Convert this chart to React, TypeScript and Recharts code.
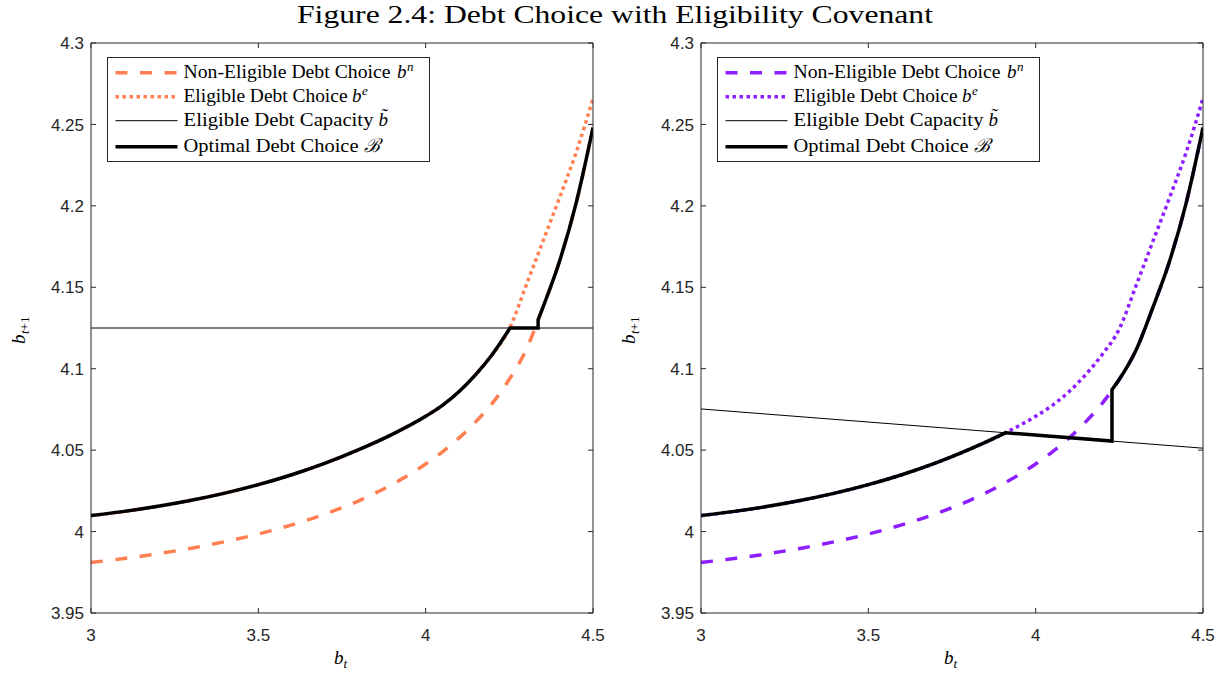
import React from "react";
import { LineChart, Line, XAxis, YAxis } from "recharts";

// b_t grid shared by the b^n and b^e curves
const BT = [3.0, 3.1, 3.2, 3.3, 3.4, 3.5, 3.6, 3.7, 3.8, 3.9, 4.0, 4.05, 4.1, 4.15, 4.2, 4.25, 4.3, 4.35, 4.4, 4.45, 4.5];

// non-eligible debt choice b^n
const NON_ELIGIBLE = [3.981, 3.9835, 3.9864, 3.9898, 3.9938, 3.9985, 4.0041, 4.0108, 4.0189, 4.029, 4.0415, 4.049, 4.0575, 4.0675, 4.079, 4.0935, 4.1115, 4.1375, 4.166, 4.202, 4.248];

// eligible debt choice b^e
const ELIGIBLE = [4.0098, 4.0124, 4.0155, 4.0192, 4.0236, 4.0288, 4.0349, 4.042, 4.0503, 4.0597, 4.0708, 4.0775, 4.086, 4.0965, 4.109, 4.1245, 4.151, 4.178, 4.205, 4.233, 4.266];

// eligible debt capacity (straight line, end points)
const CAP_BT = [3, 4.5];
const CAP_LEFT = [4.125, 4.125];
const CAP_RIGHT = [4.0753, 4.0512];

// optimal debt choice, left panel
const OPT_LEFT_BT = [3.0, 3.1, 3.2, 3.3, 3.4, 3.5, 3.6, 3.7, 3.8, 3.9, 4.0, 4.05, 4.1, 4.15, 4.2, 4.252, 4.336, 4.336, 4.35, 4.4, 4.45, 4.5];
const OPT_LEFT = [4.0098, 4.0124, 4.0155, 4.0192, 4.0236, 4.0288, 4.0349, 4.042, 4.0503, 4.0597, 4.0708, 4.0775, 4.086, 4.0965, 4.109, 4.125, 4.125, 4.13, 4.1375, 4.166, 4.202, 4.248];
// indices where B hits the capacity and where it jumps back to b^n
const OPT_LEFT_KINKS = [15, 17];

// optimal debt choice, right panel
const OPT_RIGHT_BT = [3.0, 3.1, 3.2, 3.3, 3.4, 3.5, 3.6, 3.7, 3.8, 3.9, 3.91, 4.228, 4.228, 4.25, 4.3, 4.35, 4.4, 4.45, 4.5];
const OPT_RIGHT = [4.0098, 4.0124, 4.0155, 4.0192, 4.0236, 4.0288, 4.0349, 4.042, 4.0503, 4.0597, 4.0607, 4.0556, 4.0871, 4.0935, 4.1115, 4.1375, 4.166, 4.202, 4.248];
const OPT_RIGHT_KINKS = [10, 12];

const X_TICKS = [3, 3.5, 4, 4.5];
const Y_TICKS = [3.95, 4, 4.05, 4.1, 4.15, 4.2, 4.25, 4.3];

const TITLE = "Figure 2.4: Debt Choice with Eligibility Covenant";

const ORANGE = "#FF7F50";
const PURPLE = "#8C1EFF";
const AXIS = "#262626";
const SANS = "'Liberation Sans', Arial, Helvetica, sans-serif";
const SERIF = "'Liberation Serif', 'Times New Roman', serif";

// plot box (same size in both panels)
const PLOT_TOP = 43;
const PLOT_H = 570;
const PLOT_W = 502;
const CHART_H = 680;
const BOTTOM_AXIS_H = 40;
const LEFT_AXIS_W = 60;
const MIRROR_AXIS = 10;

const fmt = (v: number) => String(Number(v.toFixed(2)));
const pts = (xs: number[], ys: number[]) => xs.map((x, i) => ({ bt: x, v: ys[i] }));

// MATLAB-style inward ticks
function BottomTick({ x, y, payload }: any) {
  return (
    <g>
      <line x1={x} x2={x} y1={y} y2={y - 5} stroke={AXIS} />
      <text x={x} y={y + 28} textAnchor="middle" fontSize={17} fill={AXIS} fontFamily={SANS}>
        {fmt(payload.value)}
      </text>
    </g>
  );
}

function TopTick({ x, y }: any) {
  return <line x1={x} x2={x} y1={y} y2={y + 5} stroke={AXIS} />;
}

function LeftTick({ x, y, payload }: any) {
  return (
    <g>
      <line x1={x} x2={x + 5} y1={y} y2={y} stroke={AXIS} />
      <text x={x - 7} y={y} dy="0.36em" textAnchor="end" fontSize={17} fill={AXIS} fontFamily={SANS}>
        {fmt(payload.value)}
      </text>
    </g>
  );
}

function RightTick({ x, y }: any) {
  return <line x1={x} x2={x - 5} y1={y} y2={y} stroke={AXIS} />;
}

type PanelProps = {
  left: number;
  width: number;
  plotLeft: number;
  color: string;
  capacity: number[];
  optBt: number[];
  opt: number[];
  kinks: number[];
};

function Panel({ left, width, plotLeft, color, capacity, optBt, opt, kinks }: PanelProps) {
  const margin = {
    top: PLOT_TOP - MIRROR_AXIS,
    left: plotLeft - LEFT_AXIS_W,
    right: width - plotLeft - PLOT_W - MIRROR_AXIS,
    bottom: CHART_H - PLOT_TOP - PLOT_H - BOTTOM_AXIS_H,
  };
  const xCommon = {
    dataKey: "bt",
    type: "number" as const,
    domain: [3, 4.5],
    ticks: X_TICKS,
    allowDataOverflow: true,
    interval: 0 as const,
    tickSize: 0,
    tickMargin: 0,
    tickLine: false,
    axisLine: { stroke: AXIS },
  };
  const yCommon = {
    type: "number" as const,
    domain: [3.95, 4.3],
    ticks: Y_TICKS,
    allowDataOverflow: true,
    interval: 0 as const,
    tickSize: 0,
    tickMargin: 0,
    tickLine: false,
    axisLine: { stroke: AXIS },
  };
  const series = { xAxisId: "b", yAxisId: "l", dataKey: "v", dot: false, activeDot: false, isAnimationActive: false };
  const optimal = pts(optBt, opt);
  const [k1, k2] = kinks;
  return (
    <div style={{ position: "absolute", left, top: 0 }}>
      <LineChart width={width} height={CHART_H} margin={margin}>
        <XAxis xAxisId="b" orientation="bottom" height={BOTTOM_AXIS_H} {...xCommon} tick={BottomTick} />
        <XAxis xAxisId="t" orientation="top" height={MIRROR_AXIS} {...xCommon} tick={TopTick} />
        <YAxis yAxisId="l" orientation="left" width={LEFT_AXIS_W} {...yCommon} tick={LeftTick} />
        <YAxis yAxisId="r" orientation="right" width={MIRROR_AXIS} {...yCommon} tick={RightTick} />
        <Line {...series} data={pts(BT, NON_ELIGIBLE)} type="monotone" stroke={color} strokeWidth={3.5} strokeDasharray="12 12.5" />
        <Line {...series} data={pts(BT, ELIGIBLE)} type="monotone" stroke={color} strokeWidth={3.5} strokeDasharray="3.5 3.5" />
        <Line {...series} data={pts(CAP_BT, capacity)} type="linear" stroke="#000" strokeWidth={1} />
        {/* optimal choice: smooth up to the capacity, straight along it and up the jump, smooth again on b^n */}
        <Line {...series} data={optimal.slice(0, k1 + 1)} type="monotone" stroke="#000" strokeWidth={3.5} />
        <Line {...series} data={optimal.slice(k1, k2 + 1)} type="linear" stroke="#000" strokeWidth={3.5} strokeLinecap="round" />
        <Line {...series} data={optimal.slice(k2)} type="monotone" stroke="#000" strokeWidth={3.5} />
      </LineChart>
    </div>
  );
}

// boxed legend in the upper-left corner of a panel
function LegendBox({ bx, color }: { bx: number; color: string }) {
  const rows = [72.7, 96.7, 120.7, 146.7];
  const sx1 = bx + 8;
  const sx2 = bx + 70;
  const tx = bx + 76;
  const fs = 19;
  return (
    <g fontFamily={SERIF} fill="#000">
      <rect x={bx} y={57.5} width={322} height={104} fill="#fff" stroke={AXIS} strokeWidth={1} />
      <line x1={sx1} x2={sx2} y1={rows[0]} y2={rows[0]} stroke={color} strokeWidth={3.5} strokeDasharray="12 12.5" />
      <line x1={sx1} x2={sx2} y1={rows[1]} y2={rows[1]} stroke={color} strokeWidth={3.5} strokeDasharray="3.5 3.5" />
      <line x1={sx1} x2={sx2} y1={rows[2]} y2={rows[2]} stroke="#000" strokeWidth={1} />
      <line x1={sx1} x2={sx2} y1={rows[3]} y2={rows[3]} stroke="#000" strokeWidth={3.5} />

      <text x={tx} y={rows[0] + 5.5} fontSize={fs} textLength={207} lengthAdjust="spacingAndGlyphs">Non-Eligible Debt Choice</text>
      <text x={tx + 213.5} y={rows[0] + 5.5} fontSize={fs} fontStyle="italic">b</text>
      <text x={tx + 223.5} y={rows[0] - 2} fontSize={13} fontStyle="italic">n</text>

      <text x={tx} y={rows[1] + 5.5} fontSize={fs} textLength={164} lengthAdjust="spacingAndGlyphs">Eligible Debt Choice</text>
      <text x={tx + 168.5} y={rows[1] + 5.5} fontSize={fs} fontStyle="italic">b</text>
      <text x={tx + 178.5} y={rows[1] - 2} fontSize={13} fontStyle="italic">e</text>

      <text x={tx} y={rows[2] + 5.5} fontSize={fs} textLength={190} lengthAdjust="spacingAndGlyphs">Eligible Debt Capacity</text>
      <text x={tx + 195} y={rows[2] + 5.5} fontSize={fs} fontStyle="italic">{"b\u0303"}</text>

      <text x={tx} y={rows[3] + 5.5} fontSize={fs} textLength={175} lengthAdjust="spacingAndGlyphs">Optimal Debt Choice</text>
      <text x={tx + 180} y={rows[3] + 5.5} fontSize={fs} fontStyle="italic">ℬ</text>
    </g>
  );
}

function AxisLabels({ plotLeft }: { plotLeft: number }) {
  const cx = plotLeft + PLOT_W / 2;
  const cy = PLOT_TOP + PLOT_H / 2;
  return (
    <g fontFamily={SERIF} fill="#000">
      <text x={cx - 8} y={664} fontSize={19} fontStyle="italic">b</text>
      <text x={cx + 1.5} y={668} fontSize={13} fontStyle="italic">t</text>
      <g transform={`translate(${plotLeft - 66}, ${cy + 16}) rotate(-90)`}>
        <text x={0} y={0} fontSize={19} fontStyle="italic">b</text>
        <text x={10} y={4} fontSize={13}>
          <tspan fontStyle="italic">t</tspan>+1
        </text>
      </g>
    </g>
  );
}

export default function App() {
  return (
    <div style={{ position: "absolute", left: 0, top: 0, width: 1231, height: 680, background: "#fff" }}>
      <Panel left={0} width={615} plotLeft={91} color={ORANGE} capacity={CAP_LEFT} optBt={OPT_LEFT_BT} opt={OPT_LEFT} kinks={OPT_LEFT_KINKS} />
      <Panel left={610} width={621} plotLeft={91} color={PURPLE} capacity={CAP_RIGHT} optBt={OPT_RIGHT_BT} opt={OPT_RIGHT} kinks={OPT_RIGHT_KINKS} />
      <svg width={1231} height={680} style={{ position: "absolute", left: 0, top: 0, pointerEvents: "none" }}>
        <text x={297} y={23} fontSize={26} fontFamily={SERIF} fill="#000" textLength={636} lengthAdjust="spacingAndGlyphs">
          {TITLE}
        </text>
        <LegendBox bx={107.5} color={ORANGE} />
        <LegendBox bx={717.5} color={PURPLE} />
        <AxisLabels plotLeft={91} />
        <AxisLabels plotLeft={701} />
      </svg>
    </div>
  );
}
